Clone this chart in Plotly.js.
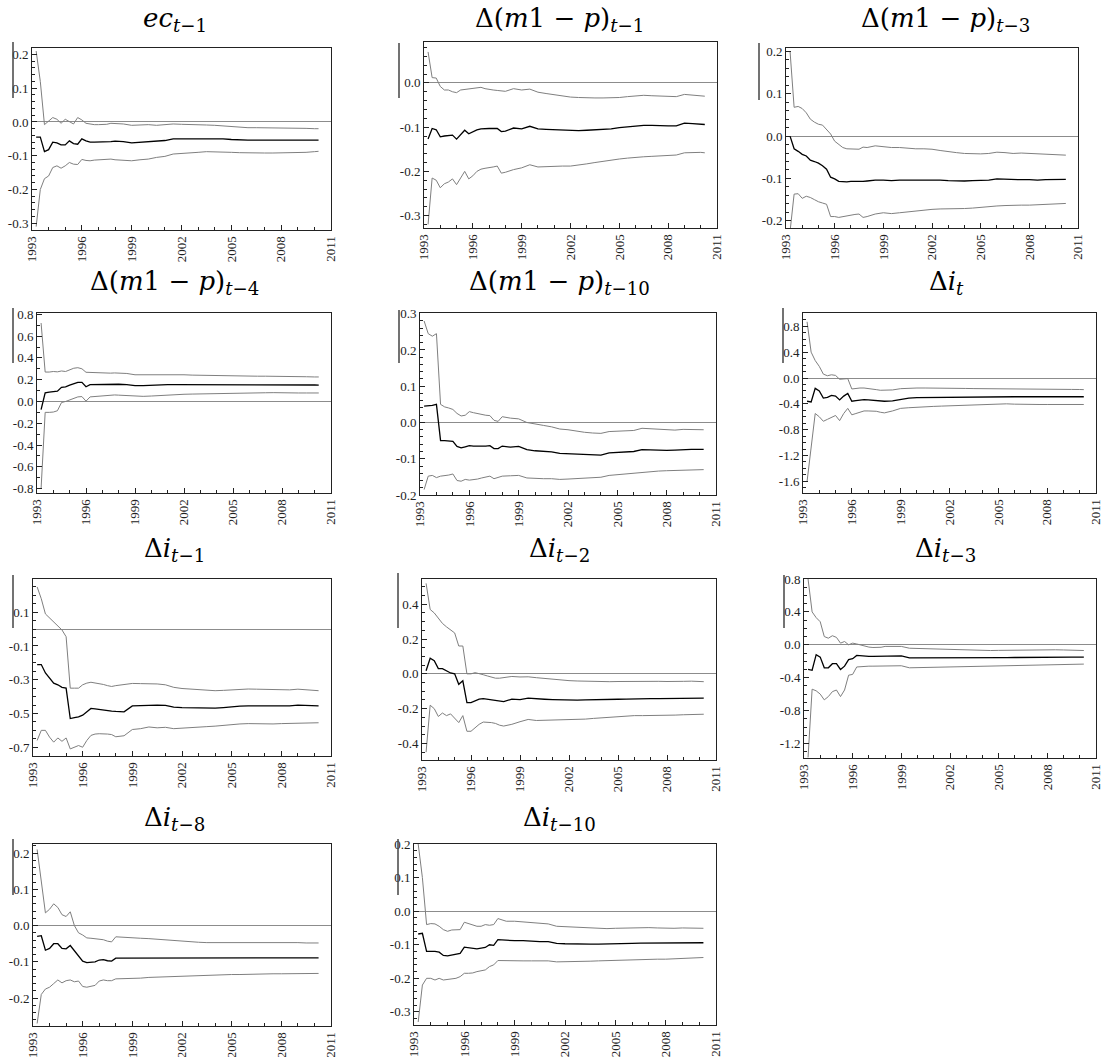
<!DOCTYPE html>
<html><head><meta charset="utf-8">
<script src="https://cdn.plot.ly/plotly-3.0.1.min.js"></script>
<style>html,body{margin:0;padding:0;background:#fff}#chart{width:1104px;height:1057px}</style>
</head><body><div id="chart"></div>
<script>
// ---------- data ----------
const dates=[1993.25,1993.5,1993.75,1994,1994.25,1994.5,1994.75,1995,1995.25,1995.5,1995.75,1996,1996.25,1996.5,1996.75,1997,1997.25,1997.5,1997.75,1998,1998.5,1999,1999.5,2000,2000.5,2001,2001.5,2002,2002.5,2003,2003.5,2004,2004.5,2005,2005.5,2006,2006.5,2007,2007.5,2008,2008.5,2009,2009.5,2010,2010.25];
const yearTicks=[1993,1996,1999,2002,2005,2008,2011];
const yearLabels=["1993","1996","1999","2002","2005","2008","2011"];

const titles=[
 '<i>ec</i><sub><i>t</i>−1</sub>',
 'Δ(<i>m</i>1 − <i>p</i>)<sub><i>t</i>−1</sub>',
 'Δ(<i>m</i>1 − <i>p</i>)<sub><i>t</i>−3</sub>',
 'Δ(<i>m</i>1 − <i>p</i>)<sub><i>t</i>−4</sub>',
 'Δ(<i>m</i>1 − <i>p</i>)<sub><i>t</i>−10</sub>',
 'Δ<i>i</i><sub><i>t</i></sub>',
 'Δ<i>i</i><sub><i>t</i>−1</sub>',
 'Δ<i>i</i><sub><i>t</i>−2</sub>',
 'Δ<i>i</i><sub><i>t</i>−3</sub>',
 'Δ<i>i</i><sub><i>t</i>−8</sub>',
 'Δ<i>i</i><sub><i>t</i>−10</sub>'
];

const yTicks=[
 [-0.3,-0.2,-0.1,0,0.1,0.2],
 [-0.3,-0.2,-0.1,0],
 [-0.2,-0.1,0,0.1,0.2],
 [-0.8,-0.6,-0.4,-0.2,0,0.2,0.4,0.6,0.8],
 [-0.2,-0.1,0,0.1,0.2,0.3],
 [-1.6,-1.2,-0.8,-0.4,0,0.4,0.8],
 [-0.7,-0.5,-0.3,-0.1,0.1,0.3],
 [-0.4,-0.2,0,0.2,0.4],
 [-1.2,-0.8,-0.4,0,0.4,0.8],
 [-0.2,-0.1,0,0.1,0.2],
 [-0.3,-0.2,-0.1,0,0.1,0.2]
];

const ecUpper=[0.21,0.12,-0.008,0.004,0.013,0.008,-0.004,0.008,0.002,-0.006,0.013,0.006,-0.004,-0.007,-0.008,-0.008,-0.008,-0.007,-0.004,-0.004,-0.006,-0.01,-0.009,-0.008,-0.01,-0.007,-0.006,-0.007,-0.007,-0.008,-0.009,-0.01,-0.012,-0.015,-0.016,-0.017,-0.017,-0.017,-0.018,-0.018,-0.019,-0.019,-0.019,-0.02,-0.02];
const ecEst=[-0.045,-0.045,-0.088,-0.082,-0.06,-0.062,-0.068,-0.068,-0.056,-0.064,-0.066,-0.05,-0.056,-0.06,-0.06,-0.06,-0.059,-0.058,-0.058,-0.057,-0.058,-0.062,-0.06,-0.059,-0.057,-0.055,-0.05,-0.05,-0.05,-0.049,-0.049,-0.048,-0.05,-0.052,-0.054,-0.054,-0.054,-0.054,-0.054,-0.054,-0.054,-0.054,-0.054,-0.054,-0.054];
const ecLower=[-0.31,-0.2,-0.168,-0.16,-0.135,-0.13,-0.137,-0.13,-0.12,-0.125,-0.126,-0.111,-0.114,-0.115,-0.113,-0.112,-0.11,-0.11,-0.11,-0.112,-0.113,-0.115,-0.112,-0.11,-0.105,-0.102,-0.095,-0.094,-0.092,-0.09,-0.088,-0.088,-0.089,-0.09,-0.091,-0.092,-0.092,-0.092,-0.092,-0.092,-0.092,-0.091,-0.09,-0.088,-0.087];

const m1Upper=[0.07,0.012,0.011,-0.008,-0.016,-0.016,-0.02,-0.022,-0.016,-0.015,-0.014,-0.013,-0.011,-0.01,-0.013,-0.015,-0.016,-0.017,-0.018,-0.019,-0.013,-0.016,-0.014,-0.021,-0.024,-0.027,-0.03,-0.032,-0.033,-0.034,-0.034,-0.034,-0.034,-0.033,-0.031,-0.03,-0.028,-0.029,-0.03,-0.031,-0.031,-0.026,-0.027,-0.029,-0.03];
const m1Est=[-0.127,-0.103,-0.106,-0.122,-0.12,-0.119,-0.118,-0.127,-0.116,-0.107,-0.115,-0.11,-0.106,-0.104,-0.103,-0.103,-0.103,-0.103,-0.11,-0.109,-0.102,-0.104,-0.098,-0.104,-0.105,-0.106,-0.107,-0.108,-0.108,-0.107,-0.106,-0.105,-0.104,-0.101,-0.099,-0.098,-0.096,-0.096,-0.097,-0.097,-0.097,-0.091,-0.092,-0.093,-0.094];
const m1Lower=[-0.32,-0.215,-0.22,-0.237,-0.228,-0.224,-0.217,-0.23,-0.215,-0.2,-0.217,-0.21,-0.2,-0.195,-0.193,-0.192,-0.19,-0.188,-0.204,-0.202,-0.196,-0.192,-0.185,-0.19,-0.189,-0.189,-0.188,-0.188,-0.186,-0.183,-0.18,-0.177,-0.175,-0.172,-0.17,-0.168,-0.167,-0.166,-0.165,-0.164,-0.163,-0.158,-0.157,-0.157,-0.158];

const m3Upper=[0.2,0.068,0.07,0.065,0.055,0.04,0.033,0.028,0.026,0.015,0.005,-0.012,-0.02,-0.027,-0.03,-0.03,-0.031,-0.031,-0.026,-0.027,-0.023,-0.025,-0.027,-0.027,-0.029,-0.03,-0.03,-0.031,-0.034,-0.037,-0.039,-0.041,-0.042,-0.042,-0.041,-0.038,-0.039,-0.041,-0.04,-0.041,-0.042,-0.043,-0.044,-0.045,-0.045];
const m3Est=[0.0,-0.03,-0.036,-0.043,-0.047,-0.057,-0.06,-0.064,-0.07,-0.078,-0.097,-0.101,-0.107,-0.108,-0.108,-0.107,-0.107,-0.108,-0.107,-0.106,-0.104,-0.104,-0.105,-0.104,-0.104,-0.103,-0.103,-0.103,-0.104,-0.105,-0.106,-0.106,-0.105,-0.105,-0.104,-0.101,-0.102,-0.103,-0.103,-0.103,-0.104,-0.103,-0.103,-0.102,-0.102];
const m3Lower=[-0.225,-0.137,-0.136,-0.147,-0.142,-0.145,-0.15,-0.155,-0.158,-0.161,-0.19,-0.19,-0.192,-0.19,-0.188,-0.186,-0.185,-0.184,-0.192,-0.19,-0.184,-0.181,-0.183,-0.181,-0.179,-0.177,-0.174,-0.173,-0.172,-0.172,-0.172,-0.171,-0.17,-0.168,-0.167,-0.165,-0.164,-0.163,-0.163,-0.163,-0.162,-0.162,-0.161,-0.16,-0.159];

const m4Upper=[0.72,0.27,0.27,0.275,0.272,0.28,0.275,0.29,0.305,0.31,0.3,0.268,0.266,0.265,0.264,0.262,0.26,0.26,0.262,0.262,0.257,0.245,0.245,0.246,0.25,0.25,0.248,0.245,0.242,0.24,0.238,0.235,0.233,0.232,0.231,0.231,0.232,0.232,0.232,0.232,0.23,0.228,0.227,0.225,0.225];
const m4Est=[-0.075,0.08,0.085,0.088,0.095,0.13,0.135,0.15,0.165,0.175,0.175,0.135,0.155,0.156,0.157,0.158,0.159,0.16,0.16,0.158,0.155,0.145,0.146,0.15,0.153,0.155,0.155,0.155,0.155,0.155,0.155,0.155,0.155,0.155,0.155,0.155,0.155,0.156,0.157,0.157,0.155,0.153,0.152,0.151,0.15];
const m4Lower=[-0.8,-0.1,-0.1,-0.097,-0.085,-0.01,0.0,0.015,0.03,0.042,0.045,0.003,0.042,0.045,0.048,0.052,0.056,0.06,0.06,0.058,0.054,0.045,0.047,0.05,0.055,0.06,0.064,0.066,0.068,0.07,0.072,0.074,0.075,0.076,0.077,0.078,0.079,0.08,0.081,0.082,0.08,0.078,0.078,0.078,0.078];

const m10Upper=[0.28,0.245,0.238,0.245,0.05,0.043,0.04,0.036,0.025,0.018,0.02,0.03,0.027,0.024,0.022,0.02,0.019,0.006,0.003,0.016,0.012,0.01,0.0,-0.005,-0.008,-0.012,-0.018,-0.02,-0.024,-0.027,-0.029,-0.03,-0.025,-0.024,-0.023,-0.022,-0.016,-0.017,-0.018,-0.018,-0.021,-0.019,-0.019,-0.02,-0.02];
const m10Est=[0.045,0.045,0.047,0.05,-0.05,-0.05,-0.05,-0.052,-0.066,-0.07,-0.067,-0.064,-0.065,-0.066,-0.065,-0.065,-0.064,-0.072,-0.072,-0.065,-0.068,-0.066,-0.075,-0.078,-0.079,-0.081,-0.085,-0.086,-0.088,-0.09,-0.09,-0.09,-0.084,-0.083,-0.082,-0.08,-0.075,-0.076,-0.077,-0.077,-0.076,-0.074,-0.074,-0.074,-0.074];
const m10Lower=[-0.185,-0.148,-0.146,-0.152,-0.148,-0.147,-0.145,-0.142,-0.16,-0.162,-0.157,-0.159,-0.158,-0.156,-0.153,-0.15,-0.148,-0.155,-0.152,-0.148,-0.147,-0.146,-0.153,-0.155,-0.155,-0.155,-0.157,-0.156,-0.155,-0.154,-0.153,-0.151,-0.146,-0.144,-0.142,-0.139,-0.136,-0.135,-0.134,-0.133,-0.132,-0.131,-0.131,-0.13,-0.13];

const i0Upper=[0.87,0.4,0.27,0.18,0.06,0.035,0.05,0.04,-0.02,-0.015,-0.01,-0.17,-0.16,-0.155,-0.155,-0.16,-0.17,-0.18,-0.19,-0.19,-0.185,-0.165,-0.155,-0.155,-0.155,-0.155,-0.152,-0.158,-0.16,-0.162,-0.164,-0.166,-0.168,-0.17,-0.17,-0.17,-0.17,-0.171,-0.172,-0.173,-0.174,-0.175,-0.177,-0.178,-0.18];
const i0Est=[-0.36,-0.37,-0.16,-0.2,-0.31,-0.3,-0.27,-0.28,-0.34,-0.28,-0.24,-0.36,-0.35,-0.34,-0.335,-0.34,-0.345,-0.35,-0.355,-0.36,-0.355,-0.33,-0.31,-0.305,-0.303,-0.3,-0.298,-0.297,-0.296,-0.295,-0.294,-0.293,-0.292,-0.291,-0.29,-0.29,-0.29,-0.29,-0.29,-0.29,-0.29,-0.29,-0.29,-0.29,-0.29];
const i0Lower=[-1.6,-1.1,-0.55,-0.6,-0.67,-0.64,-0.61,-0.58,-0.66,-0.55,-0.47,-0.57,-0.55,-0.53,-0.51,-0.51,-0.51,-0.515,-0.53,-0.54,-0.51,-0.47,-0.46,-0.45,-0.445,-0.44,-0.435,-0.43,-0.425,-0.42,-0.415,-0.41,-0.405,-0.4,-0.4,-0.405,-0.41,-0.41,-0.41,-0.41,-0.41,-0.41,-0.41,-0.41,-0.41];

const i1Upper=[0.25,0.18,0.09,0.065,0.045,0.02,-0.005,-0.045,-0.35,-0.35,-0.35,-0.33,-0.32,-0.315,-0.318,-0.322,-0.328,-0.335,-0.34,-0.335,-0.33,-0.322,-0.323,-0.322,-0.325,-0.33,-0.345,-0.352,-0.355,-0.36,-0.362,-0.365,-0.363,-0.36,-0.357,-0.355,-0.356,-0.357,-0.358,-0.36,-0.36,-0.356,-0.358,-0.362,-0.365];
const i1Est=[-0.21,-0.21,-0.26,-0.29,-0.32,-0.33,-0.345,-0.35,-0.53,-0.525,-0.52,-0.51,-0.49,-0.47,-0.473,-0.477,-0.48,-0.483,-0.486,-0.488,-0.49,-0.455,-0.452,-0.45,-0.45,-0.452,-0.462,-0.465,-0.466,-0.468,-0.468,-0.468,-0.465,-0.46,-0.457,-0.455,-0.455,-0.455,-0.455,-0.455,-0.455,-0.45,-0.452,-0.453,-0.455];
const i1Lower=[-0.66,-0.6,-0.6,-0.64,-0.67,-0.645,-0.665,-0.645,-0.71,-0.7,-0.69,-0.7,-0.66,-0.63,-0.622,-0.62,-0.62,-0.622,-0.625,-0.638,-0.632,-0.595,-0.59,-0.58,-0.585,-0.582,-0.59,-0.586,-0.583,-0.58,-0.578,-0.575,-0.57,-0.565,-0.562,-0.56,-0.562,-0.563,-0.562,-0.56,-0.558,-0.557,-0.556,-0.555,-0.555];

const i2Upper=[0.52,0.37,0.35,0.32,0.29,0.27,0.25,0.235,0.16,0.16,0.0,0.0,0.007,0.003,-0.005,-0.012,-0.02,-0.025,-0.025,-0.022,-0.015,-0.018,-0.017,-0.022,-0.027,-0.032,-0.036,-0.039,-0.041,-0.043,-0.045,-0.045,-0.045,-0.044,-0.043,-0.042,-0.042,-0.043,-0.043,-0.044,-0.045,-0.043,-0.042,-0.044,-0.045];
const i2Est=[0.018,0.09,0.075,0.03,0.03,0.015,0.005,0.0,-0.06,-0.04,-0.165,-0.165,-0.155,-0.145,-0.142,-0.145,-0.15,-0.155,-0.158,-0.16,-0.145,-0.148,-0.14,-0.145,-0.146,-0.148,-0.15,-0.152,-0.151,-0.15,-0.15,-0.15,-0.148,-0.146,-0.145,-0.143,-0.142,-0.142,-0.142,-0.142,-0.141,-0.14,-0.14,-0.14,-0.14];
const i2Lower=[-0.45,-0.18,-0.2,-0.245,-0.225,-0.24,-0.23,-0.255,-0.28,-0.24,-0.33,-0.33,-0.31,-0.29,-0.277,-0.278,-0.28,-0.285,-0.295,-0.3,-0.29,-0.275,-0.262,-0.268,-0.267,-0.266,-0.265,-0.265,-0.262,-0.26,-0.256,-0.252,-0.248,-0.244,-0.241,-0.24,-0.24,-0.24,-0.239,-0.238,-0.237,-0.235,-0.234,-0.233,-0.232];

const i3Upper=[0.8,0.4,0.33,0.28,0.1,0.08,0.11,0.09,0.02,0.04,0.0,0.02,0.01,-0.005,-0.02,-0.028,-0.033,-0.035,-0.03,-0.02,-0.022,-0.02,-0.042,-0.045,-0.048,-0.05,-0.055,-0.06,-0.064,-0.068,-0.07,-0.07,-0.07,-0.068,-0.066,-0.064,-0.062,-0.061,-0.06,-0.06,-0.061,-0.063,-0.065,-0.068,-0.07];
const i3Est=[-0.3,-0.31,-0.12,-0.15,-0.28,-0.28,-0.23,-0.23,-0.3,-0.26,-0.18,-0.17,-0.13,-0.135,-0.14,-0.14,-0.14,-0.14,-0.138,-0.135,-0.14,-0.135,-0.16,-0.16,-0.16,-0.16,-0.162,-0.165,-0.165,-0.165,-0.163,-0.162,-0.16,-0.158,-0.156,-0.155,-0.153,-0.152,-0.151,-0.15,-0.15,-0.15,-0.15,-0.15,-0.15];
const i3Lower=[-1.37,-0.54,-0.56,-0.6,-0.67,-0.63,-0.57,-0.55,-0.63,-0.55,-0.37,-0.36,-0.27,-0.265,-0.262,-0.26,-0.26,-0.26,-0.258,-0.256,-0.256,-0.255,-0.28,-0.278,-0.276,-0.274,-0.272,-0.27,-0.268,-0.266,-0.264,-0.262,-0.26,-0.256,-0.254,-0.252,-0.25,-0.248,-0.246,-0.244,-0.242,-0.24,-0.238,-0.236,-0.235];

const i8Upper=[0.21,0.12,0.035,0.045,0.06,0.05,0.03,0.025,0.038,0.0,-0.02,-0.026,-0.034,-0.035,-0.036,-0.037,-0.039,-0.043,-0.045,-0.031,-0.033,-0.034,-0.035,-0.036,-0.038,-0.04,-0.041,-0.042,-0.044,-0.046,-0.047,-0.047,-0.046,-0.046,-0.046,-0.045,-0.045,-0.046,-0.046,-0.046,-0.047,-0.047,-0.048,-0.048,-0.048];
const i8Est=[-0.03,-0.028,-0.068,-0.063,-0.05,-0.05,-0.063,-0.064,-0.055,-0.07,-0.085,-0.098,-0.102,-0.102,-0.1,-0.095,-0.094,-0.097,-0.098,-0.09,-0.09,-0.09,-0.09,-0.09,-0.091,-0.091,-0.091,-0.091,-0.091,-0.091,-0.091,-0.091,-0.09,-0.09,-0.09,-0.089,-0.089,-0.089,-0.089,-0.089,-0.089,-0.089,-0.089,-0.089,-0.089];
const i8Lower=[-0.27,-0.19,-0.175,-0.17,-0.16,-0.15,-0.158,-0.152,-0.15,-0.155,-0.153,-0.168,-0.17,-0.168,-0.165,-0.153,-0.15,-0.152,-0.152,-0.147,-0.147,-0.146,-0.145,-0.143,-0.142,-0.141,-0.14,-0.139,-0.138,-0.138,-0.137,-0.137,-0.136,-0.135,-0.135,-0.134,-0.134,-0.134,-0.133,-0.133,-0.133,-0.132,-0.132,-0.132,-0.132];

const i10Upper=[0.2,0.1,-0.04,-0.037,-0.038,-0.045,-0.055,-0.06,-0.056,-0.055,-0.055,-0.033,-0.037,-0.04,-0.045,-0.045,-0.04,-0.042,-0.04,-0.022,-0.03,-0.03,-0.032,-0.033,-0.035,-0.038,-0.045,-0.046,-0.048,-0.05,-0.051,-0.052,-0.052,-0.051,-0.05,-0.05,-0.048,-0.049,-0.05,-0.051,-0.051,-0.05,-0.05,-0.051,-0.051];
const i10Est=[-0.068,-0.066,-0.12,-0.119,-0.12,-0.122,-0.132,-0.133,-0.13,-0.128,-0.126,-0.107,-0.108,-0.11,-0.112,-0.11,-0.108,-0.1,-0.102,-0.085,-0.087,-0.088,-0.088,-0.09,-0.091,-0.091,-0.096,-0.097,-0.098,-0.098,-0.098,-0.098,-0.098,-0.097,-0.097,-0.096,-0.095,-0.095,-0.095,-0.096,-0.096,-0.095,-0.094,-0.094,-0.094];
const i10Lower=[-0.33,-0.22,-0.2,-0.2,-0.205,-0.2,-0.205,-0.204,-0.203,-0.2,-0.195,-0.185,-0.185,-0.184,-0.18,-0.177,-0.175,-0.165,-0.16,-0.147,-0.148,-0.148,-0.148,-0.148,-0.147,-0.148,-0.151,-0.151,-0.15,-0.15,-0.149,-0.148,-0.147,-0.146,-0.146,-0.145,-0.144,-0.144,-0.143,-0.143,-0.142,-0.141,-0.14,-0.139,-0.138];

const series=[
 [ecUpper,ecEst,ecLower],[m1Upper,m1Est,m1Lower],[m3Upper,m3Est,m3Lower],
 [m4Upper,m4Est,m4Lower],[m10Upper,m10Est,m10Lower],[i0Upper,i0Est,i0Lower],
 [i1Upper,i1Est,i1Lower],[i2Upper,i2Est,i2Lower],[i3Upper,i3Est,i3Lower],
 [i8Upper,i8Est,i8Lower],[i10Upper,i10Est,i10Lower]
];

// ---------- layout (pixels) ----------
const W=1104,H=1057;
const boxes=[[32,331,48,230],[424,717,42,228],[786,1078,48,228],
 [37,331,313,493],[420,716,313,495],[803,1096,313,493],
 [33,331,579,756],[422,716,579,760],[804,1096,579,758],
 [33,331,844,1026],[414,716,844,1025]];
const yRanges=[[-0.32,0.219],[-0.328,0.0925],[-0.217,0.208],[-0.84,0.812],[-0.2,0.302],[-1.78,1.006],
 [-0.752,0.297],[-0.495,0.545],[-1.377,0.8],[-0.277,0.225],[-0.339,0.2]];
const yMinor=[0.02,0.02,0.02,0.1,0.02,0.1,0.05,0.05,0.1,0.02,0.02];
const titlePos=[[175,19],[559,19],[945,19],[174,283],[559,283],[946,283],[174,549],[559,549],[945,549],[174,818],[559,818]];
const sideBars=[[13,42,98],[399,43,98],[759,43,100],[13,308,363],[399,310,363],[783,308,363],[13,575,628],[398,573,628],[784,575,628],[13,839,895],[398,839,895]];

const traces=[];
const layout={width:W,height:H,margin:{l:0,r:0,t:0,b:0},paper_bgcolor:'#fff',plot_bgcolor:'#fff',
 showlegend:false,hovermode:false,annotations:[],shapes:[]};
const tickFont={family:'Liberation Serif',size:13,color:'#222'};

series.forEach((s,i)=>{
 const n=i===0?'':String(i+1);
 const xr='x'+n, yr='y'+n;
 const styles=[{color:'#7f7f7f',width:1},{color:'#000',width:1.3},{color:'#7f7f7f',width:1}];
 s.forEach((arr,k)=>traces.push({x:dates,y:arr,type:'scatter',mode:'lines',line:styles[k],xaxis:xr,yaxis:yr}));
 const b=boxes[i];
 layout['xaxis'+n]={domain:[b[0]/W,b[1]/W],anchor:yr,range:[1993,2011],tickmode:'array',
  tickvals:yearTicks,ticktext:yearLabels,tickangle:-90,ticks:'inside',ticklen:5,tickcolor:'#222',
  showline:true,linecolor:'#222',linewidth:1,mirror:true,showgrid:false,zeroline:false,tickfont:tickFont,
  ticklabeloverflow:'allow',
  minor:{tickmode:'linear',tick0:1993,dtick:1,ticks:'inside',ticklen:3,tickcolor:'#222',showgrid:false},fixedrange:true};
 layout['yaxis'+n]={domain:[1-b[3]/H,1-b[2]/H],anchor:xr,range:yRanges[i],tickmode:'array',
  tickvals:yTicks[i],ticktext:yTicks[i].map(v=>v.toFixed(1)),ticks:'inside',ticklen:5,tickcolor:'#222',
  showline:true,linecolor:'#222',linewidth:1,mirror:true,showgrid:false,ticklabeloverflow:'allow',
  zeroline:true,zerolinecolor:'#8c8c8c',zerolinewidth:1,tickfont:tickFont,
  minor:{tickmode:'linear',tick0:0,dtick:yMinor[i],ticks:'inside',ticklen:3,tickcolor:'#222',showgrid:false},fixedrange:true};
 layout.annotations.push({text:titles[i],xref:'paper',yref:'paper',x:titlePos[i][0]/W,y:1-titlePos[i][1]/H,
  xanchor:'center',yanchor:'middle',showarrow:false,font:{family:'DejaVu Serif',size:26,color:'#000'}});
 const sb=sideBars[i];
 layout.shapes.push({type:'line',xref:'paper',yref:'paper',x0:sb[0]/W,x1:sb[0]/W,y0:1-sb[1]/H,y1:1-sb[2]/H,
  line:{color:'#444',width:1.5}});
});

Plotly.newPlot('chart',traces,layout,{staticPlot:true,displayModeBar:false});
</script></body></html>
